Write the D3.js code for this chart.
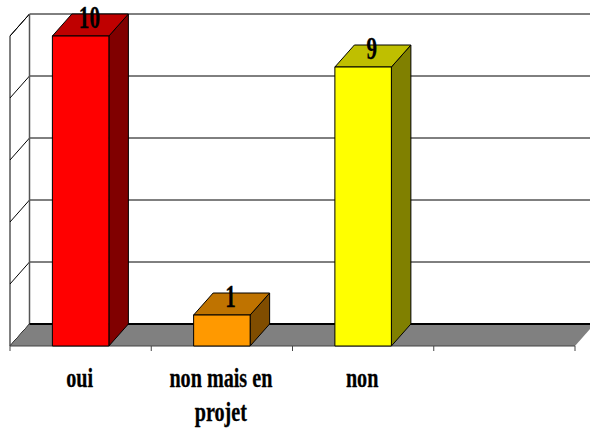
<!DOCTYPE html>
<html>
<head>
<meta charset="utf-8">
<script src="https://cdn.jsdelivr.net/npm/d3@7"></script>
<style>
html, body { margin: 0; padding: 0; background: #fff; }
svg { display: block; }
text { font-family: "Liberation Serif", serif; font-weight: bold; fill: #000; stroke: #000; stroke-width: 0.3; }
</style>
</head>
<body>
<script>
const categories = ["oui", "non mais en projet", "non", ""];
const values = [10, 1, 9, null];
const frontColors = ["#ff0000", "#ff9900", "#ffff00", "none"];
const topColors = ["#bf0000", "#bf7300", "#bfbf00", "none"];
const sideColors = ["#800000", "#804d00", "#808000", "none"];
const yTicks = [0, 2, 4, 6, 8, 10];

const width = 590, height = 428;
const depthX = 19.5, depthY = -22;

const root = d3.select("body").append("svg")
    .attr("width", width)
    .attr("height", height);

// half pixel shift keeps the 1px lines crisp
const svg = root.append("g").attr("transform", "translate(0.5,0.5)");

const x = d3.scaleBand()
    .domain(categories)
    .range([9.5, 574.5])
    .paddingInner(0.6)
    .paddingOuter(0.3);

const y = d3.scaleLinear()
    .domain([0, 10])
    .range([345.5, 35.5]);

const poly = pts => pts.map(p => p.join(",")).join(" ");
const x0 = x.range()[0], x1 = x.range()[1];

// walls and gridlines
svg.append("polygon")
    .attr("points", poly([[x0, y(10)], [x0 + depthX, y(10) + depthY], [x0 + depthX, y(0) + depthY], [x0, y(0)]]))
    .attr("fill", "#fff")
    .attr("stroke", "#000")
    .attr("stroke-width", 1);

svg.selectAll("line.grid")
    .data(yTicks)
    .enter().append("line")
    .attr("x1", x0 + depthX)
    .attr("x2", x1 + depthX)
    .attr("y1", d => y(d) + depthY)
    .attr("y2", d => y(d) + depthY)
    .attr("stroke", "#000")
    .attr("stroke-width", 1);

svg.selectAll("line.wall")
    .data(yTicks)
    .enter().append("line")
    .attr("x1", x0)
    .attr("x2", x0 + depthX)
    .attr("y1", d => y(d))
    .attr("y2", d => y(d) + depthY)
    .attr("stroke", "#000")
    .attr("stroke-width", 1);

svg.append("line")
    .attr("x1", x0 + depthX).attr("x2", x0 + depthX)
    .attr("y1", y(10) + depthY).attr("y2", y(0) + depthY)
    .attr("stroke", "#555")
    .attr("stroke-width", 1.5);

// floor
svg.append("polygon")
    .attr("points", poly([[x0, y(0)], [x0 + depthX, y(0) + depthY], [x1 + depthX, y(0) + depthY], [x1, y(0)]]))
    .attr("fill", "#808080");

svg.append("line")
    .attr("x1", x0 + depthX).attr("x2", x1 + depthX)
    .attr("y1", y(0) + depthY).attr("y2", y(0) + depthY)
    .attr("stroke", "#000")
    .attr("stroke-width", 2);

// category axis
const tickXs = categories.map(c => x(c) - x.step() * x.paddingOuter()).concat([x1]);
svg.append("line")
    .attr("x1", x0).attr("x2", x1)
    .attr("y1", y(0)).attr("y2", y(0))
    .attr("stroke", "#444")
    .attr("stroke-width", 1);

svg.selectAll("line.tick")
    .data(tickXs)
    .enter().append("line")
    .attr("x1", d => d).attr("x2", d => d)
    .attr("y1", y(0)).attr("y2", y(0) + 5)
    .attr("stroke", "#444")
    .attr("stroke-width", 1);

// bars
const bars = svg.selectAll("g.bar")
    .data(categories.map((c, i) => ({ c, v: values[i], i })).filter(d => d.v !== null))
    .enter().append("g")
    .attr("stroke", "#000")
    .attr("stroke-width", 1)
    .attr("stroke-linejoin", "round");

bars.append("polygon")
    .attr("fill", d => sideColors[d.i])
    .attr("points", d => {
        const r = x(d.c) + x.bandwidth();
        return poly([[r, y(d.v)], [r + depthX, y(d.v) + depthY], [r + depthX, y(0) + depthY], [r, y(0)]]);
    });

bars.append("polygon")
    .attr("fill", d => topColors[d.i])
    .attr("points", d => {
        const l = x(d.c), r = l + x.bandwidth();
        return poly([[l, y(d.v)], [l + depthX, y(d.v) + depthY], [r + depthX, y(d.v) + depthY], [r, y(d.v)]]);
    });

bars.append("rect")
    .attr("fill", d => frontColors[d.i])
    .attr("x", d => x(d.c))
    .attr("y", d => y(d.v))
    .attr("width", x.bandwidth())
    .attr("height", d => y(0) - y(d.v));

// value labels
svg.selectAll("text.value")
    .data(categories.map((c, i) => ({ c, v: values[i] })).filter(d => d.v !== null))
    .enter().append("text")
    .attr("text-anchor", "middle")
    .attr("font-size", 31)
    .attr("transform", d => `translate(${x(d.c) + x.bandwidth() / 2 + depthX / 2 - 1},${y(d.v) - 8}) scale(0.68,1)`)
    .text(d => d.v);

// category labels
const labelLines = { "oui": ["oui"], "non mais en projet": ["non mais en", "projet"], "non": ["non"] };
categories.filter(c => c).forEach(c => {
    labelLines[c].forEach((line, i) => {
        svg.append("text")
            .attr("text-anchor", "middle")
            .attr("font-size", 28)
            .attr("transform", `translate(${x(c) + x.bandwidth() / 2 - 1},${386 + i * 34}) scale(0.72,1)`)
            .text(line);
    });
});
</script>
</body>
</html>
